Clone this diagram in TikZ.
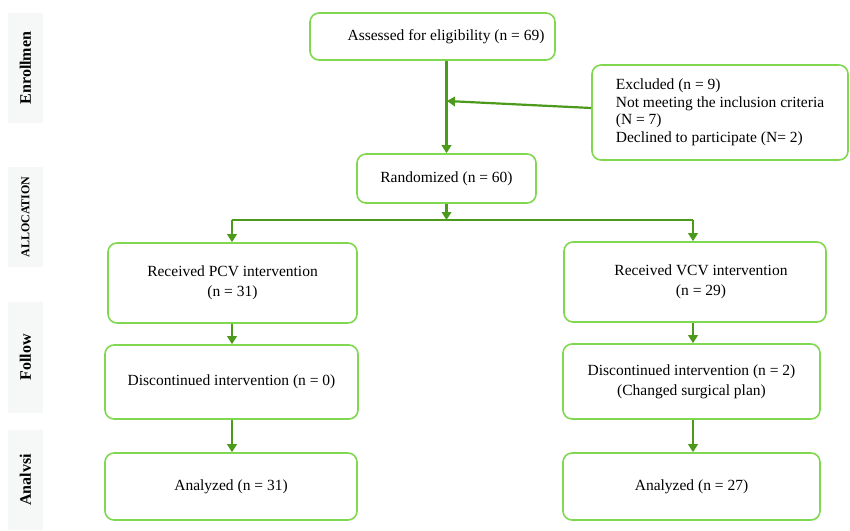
\documentclass[tikz,border=0pt]{standalone}
\usepackage{fontspec}
\setmainfont{Liberation Serif}
\usetikzlibrary{arrows.meta}
\definecolor{boxgreen}{RGB}{128,216,80}
\definecolor{arrgreen}{RGB}{76,154,28}
\definecolor{sidebg}{RGB}{246,248,248}
\begin{document}
\begin{tikzpicture}[x=1pt,y=-1pt,
  box/.style={draw=boxgreen,line width=1.6pt,rounded corners=9pt,fill=white,
    align=center,font=\fontsize{15.5}{20}\selectfont,inner sep=0pt},
  arr/.style={draw=arrgreen,line width=2.2pt,-{Triangle[length=8pt,width=9.5pt]}},
  thin/.style={draw=arrgreen,line width=1.3pt},
  side/.style={fill=sidebg,minimum height=35pt,inner sep=0pt,
    font=\fontsize{16}{18}\selectfont\bfseries,rotate=90}]
\useasboundingbox (0,0) rectangle (850,530);
% side labels
\node[side,minimum width=110pt] (s1) at (25.5,68) {Enrollmen};
\node[side,minimum width=100pt,font=\fontsize{12}{14}\selectfont\bfseries] (s2) at (25.5,217) {ALLOCATION};
\node[side,minimum width=111pt] (s3) at (25.5,357.5) {Follow};
\node[side,minimum width=100pt] (s4) at (25.5,480) {Analvsi};
% boxes
\node[box,minimum width=245pt,minimum height=47pt] (assess) at (432.5,36.5) {\hspace*{27pt}Assessed for eligibility (n = 69)};
\node[box,minimum width=256pt,minimum height=95pt,align=left,font=\fontsize{15.5}{17.5}\selectfont] (excl) at (720,112.5)
  {Excluded (n = 9)\\Not meeting the inclusion criteria\\(N = 7)\\Declined to participate (N= 2)};
\node[box,minimum width=179pt,minimum height=49pt] (rand) at (446.5,178.5) {Randomized (n = 60)};
\node[box,minimum width=249pt,minimum height=80pt] (pcv) at (232.5,283) {Received PCV intervention\\(n = 31)};
\node[box,minimum width=253pt,minimum height=74pt] (disc1) at (231.5,382) {Discontinued intervention (n = 0)};
\node[box,minimum width=252pt,minimum height=67pt] (an1) at (231,486.5) {Analyzed (n = 31)};
\node[box,minimum width=262pt,minimum height=80pt] (vcv) at (695,282) {\hspace*{12pt}Received VCV intervention\\\hspace*{12pt}(n = 29)};
\node[box,minimum width=257pt,minimum height=75pt] (disc2) at (691.5,381.5) {Discontinued intervention (n = 2)\\(Changed surgical plan)};
\node[box,minimum width=257pt,minimum height=67pt] (an2) at (691.5,486.5) {Analyzed (n = 27)};
% connectors
\draw[arr] (assess.south -| rand.north) -- (rand.north);
\coordinate (jx) at (447,101);
\draw[arr] ([yshift=4.5pt]excl.west) -- (jx);
\coordinate (split) at (446.5,220);
\coordinate (sl) at (232,220);
\coordinate (sr) at (693,220);
\draw[arr] (rand.south) -- (split);
\draw[thin] (sl) -- (sr);
\draw[arr] (sl) -- (sl |- pcv.north);
\draw[arr] (sr) -- (sr |- vcv.north);
\draw[arr] (pcv.south -| sl) -- (disc1.north -| sl);
\draw[arr] (disc1.south -| sl) -- (an1.north -| sl);
\draw[arr] (vcv.south -| sr) -- (disc2.north -| sr);
\draw[arr] (disc2.south -| sr) -- (an2.north -| sr);
\end{tikzpicture}
\end{document}
